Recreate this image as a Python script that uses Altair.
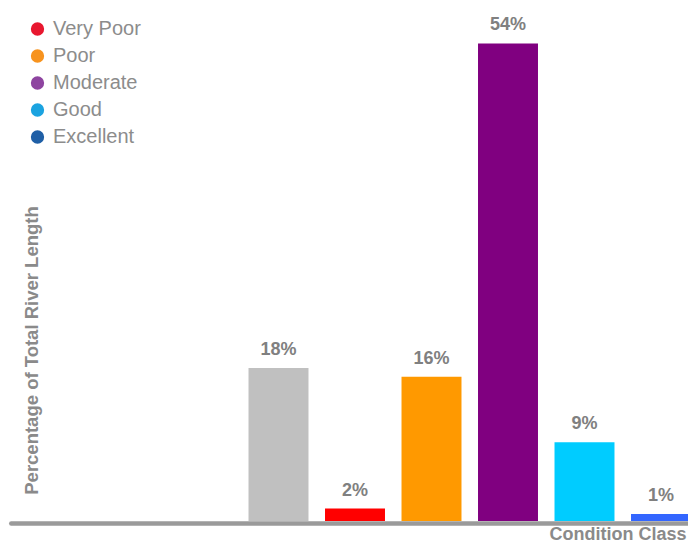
import altair as alt
import pandas as pd

# x slots (three empty ones on the left, as in the reference)
slots = ["s1", "s2", "s3", "Unassessed", "Very Poor", "Poor", "Moderate", "Good", "Excellent"]

# bars
categories = ["Unassessed", "Very Poor", "Poor", "Moderate", "Good", "Excellent"]
values = [17.3, 1.4, 16.3, 54.0, 8.9, 0.8]
labels = ["18%", "2%", "16%", "54%", "9%", "1%"]
bar_colors = ["#C0C0C0", "#FF0000", "#FF9900", "#800080", "#00CCFF", "#3366FF"]

# legend
legend_names = ["Very Poor", "Poor", "Moderate", "Good", "Excellent"]
legend_colors = ["#E8172F", "#F7931E", "#8E44A0", "#1BA3E0", "#1F5FA6"]

bars_df = pd.DataFrame({"category": categories, "value": values,
                        "label": labels, "color": bar_colors})
legend_df = pd.DataFrame({"name": legend_names})

FONT = "Liberation Sans"
GREY = "#8a8a8a"

x = alt.X(
    "category:N",
    scale=alt.Scale(domain=slots, range=[2.75, 691.25],
                    paddingInner=0.216, paddingOuter=0.108),
    axis=alt.Axis(labels=False, ticks=False, grid=False, domain=True,
                  domainColor="#9a9a9a", domainWidth=4.5, domainCap="round",
                  offset=2, title="Condition Class", titleFont=FONT,
                  titleFontSize=18, titleFontWeight="bold", titleColor=GREY,
                  titleAlign="right", titleX=678, titleY=16,
                  titleBaseline="alphabetic"),
)
y = alt.Y(
    "value:Q",
    scale=alt.Scale(domain=[0, 58], nice=False, zero=True),
    axis=alt.Axis(labels=False, ticks=False, grid=False, domain=False,
                  title="Percentage of Total River Length", titleFont=FONT,
                  titleFontSize=18.5, titleFontWeight="bold", titleColor=GREY,
                  titleX=29, titleY=342, titleBaseline="alphabetic",
                  titleAlign="center"),
)

bars = alt.Chart(bars_df).mark_bar().encode(
    x=x, y=y, color=alt.Color("color:N", scale=None)
)
text = alt.Chart(bars_df).mark_text(
    dy=-13, baseline="alphabetic", fontSize=18, fontWeight="bold",
    color="#808080", font=FONT
).encode(x=x, y=y, text="label:N")

legend_layer = alt.Chart(legend_df).mark_point(
    filled=True, opacity=0, shape="circle"
).encode(
    color=alt.Color(
        "name:N",
        scale=alt.Scale(domain=legend_names, range=legend_colors),
        legend=alt.Legend(title=None, orient="none", legendX=19.5, legendY=11,
                          symbolSize=177, symbolType="circle",
                          symbolOpacity=1, symbolStrokeWidth=0,
                          labelFontSize=20, labelColor="#8c8c8c",
                          labelFont=FONT, labelOffset=5.5, rowPadding=7,
                          padding=0),
    )
)

chart = alt.layer(bars, text, legend_layer).resolve_scale(
    color="independent"
).properties(
    width=680, height=513,
    padding={"left": 0, "right": 0, "top": 0, "bottom": 21},
    autosize=alt.AutoSizeParams(type="none"),
    background="white",
).configure_view(stroke=None)

chart.save("out.html", embed_options={"renderer": "svg", "actions": False})
